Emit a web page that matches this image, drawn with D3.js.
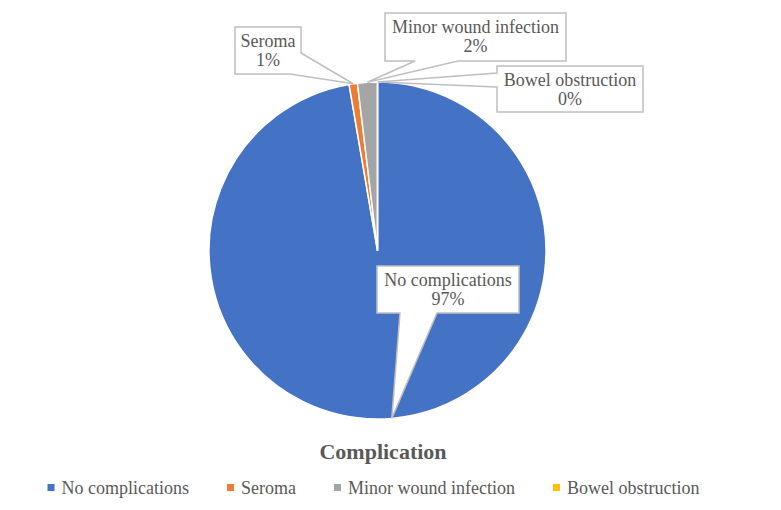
<!DOCTYPE html>
<html>
<head>
<meta charset="utf-8">
<script src="https://cdn.jsdelivr.net/npm/d3@7"></script>
</head>
<body style="margin:0; background:#fff">
<svg id="chart" width="781" height="510"></svg>
<script>
// -- data -- //
const categories = ["No complications", "Seroma", "Minor wound infection", "Bowel obstruction"];
const values = [97.3, 0.8, 1.9, 0];
const colors = ["#4472C4", "#ED7D31", "#A5A5A5", "#FFC000"];
const chartTitle = "Complication";

// -- callout boxes (layout only) -- //
const callouts = [
  { x: 377, y: 266, w: 142, h: 47, side: "bottom", b: [400, 437] },
  { x: 235, y: 27, w: 66, h: 47, side: "br", b: [53, 290] },
  { x: 385, y: 13, w: 181, h: 48, side: "bottom", b: [415, 458] },
  { x: 497, y: 66, w: 146, h: 46, side: "left", b: [73, 87] }
];

const svg = d3.select("#chart");
const cx = 377.5, cy = 250.5, radius = 168.5;
const fontFam = "Liberation Serif";
const textColor = "#595959";

const total = d3.sum(values);
const data = categories.map((c, i) => ({ name: c, value: values[i], color: colors[i] }));

const pie = d3.pie().sort(null).value(d => d.value);
const arc = d3.arc().innerRadius(0).outerRadius(radius);
const arcs = pie(data);

const pieLayer = svg.append("g").attr("transform", `translate(${cx},${cy})`);

// -- draw slices -- //
pieLayer.selectAll(".slice")
  .data(arcs)
  .enter()
  .append("path")
  .attr("class", "slice")
  .attr("d", arc)
  .style("fill", d => d.data.color)
  .style("stroke", "#fff")
  .style("stroke-width", 1.5);

// -- callout path: box with a wedge pointing at the slice -- //
let calloutPath = (c, tip) => {
  let x0 = c.x, y0 = c.y, x1 = c.x + c.w, y1 = c.y + c.h;
  let p = [];
  if (c.side === "bottom") {
    p = [[x0, y0], [x1, y0], [x1, y1], [c.b[1], y1], tip, [c.b[0], y1], [x0, y1]];
  } else if (c.side === "left") {
    p = [[x0, y0], [x1, y0], [x1, y1], [x0, y1], [x0, c.b[1]], tip, [x0, c.b[0]]];
  } else if (c.side === "br") {
    p = [[x0, y0], [x1, y0], [x1, c.b[0]], tip, [c.b[1], y1], [x0, y1]];
  }
  return "M" + p.map(q => q.join(",")).join("L") + "Z";
};

const labelLayer = svg.append("g");
arcs.forEach((a, i) => {
  let mid = (a.startAngle + a.endAngle) / 2;
  let tip = [cx + radius * Math.sin(mid), cy - radius * Math.cos(mid)];
  let c = callouts[i];
  labelLayer.append("path")
    .attr("d", calloutPath(c, tip))
    .style("fill", "#fff")
    .style("stroke", "#BFBFBF")
    .style("stroke-width", 1.5);
  let pct = Math.round(a.data.value / total * 100) + "%";
  [a.data.name, pct].forEach((t, k) => {
    labelLayer.append("text")
      .attr("x", c.x + c.w / 2)
      .attr("y", c.y + 20 + k * 19)
      .attr("text-anchor", "middle")
      .style("font-family", fontFam)
      .style("font-size", "18px")
      .style("fill", textColor)
      .text(t);
  });
});

// -- title -- //
svg.append("text")
  .attr("x", 383)
  .attr("y", 459)
  .attr("text-anchor", "middle")
  .style("font-family", fontFam)
  .style("font-size", "22px")
  .style("font-weight", "bold")
  .style("fill", textColor)
  .text(chartTitle);

// -- legend -- //
const legend = svg.append("g");
const items = legend.selectAll(".item")
  .data(data)
  .enter()
  .append("g")
  .attr("class", "item");
items.append("rect")
  .attr("width", 7)
  .attr("height", 7)
  .attr("y", 484)
  .style("fill", d => d.color);
items.append("text")
  .attr("y", 494)
  .style("font-family", fontFam)
  .style("font-size", "18px")
  .style("fill", textColor)
  .text(d => d.name);

let widths = [];
items.select("text").each(function () { widths.push(this.getComputedTextLength()); });
const gap = 38, markerGap = 7;
const totalW = d3.sum(widths) + widths.length * (7 + markerGap) + gap * (widths.length - 1);
let xPos = 373.5 - totalW / 2;
items.each(function (d, i) {
  let g = d3.select(this);
  g.select("rect").attr("x", xPos);
  g.select("text").attr("x", xPos + 7 + markerGap);
  xPos += 7 + markerGap + widths[i] + gap;
});
</script>
</body>
</html>
